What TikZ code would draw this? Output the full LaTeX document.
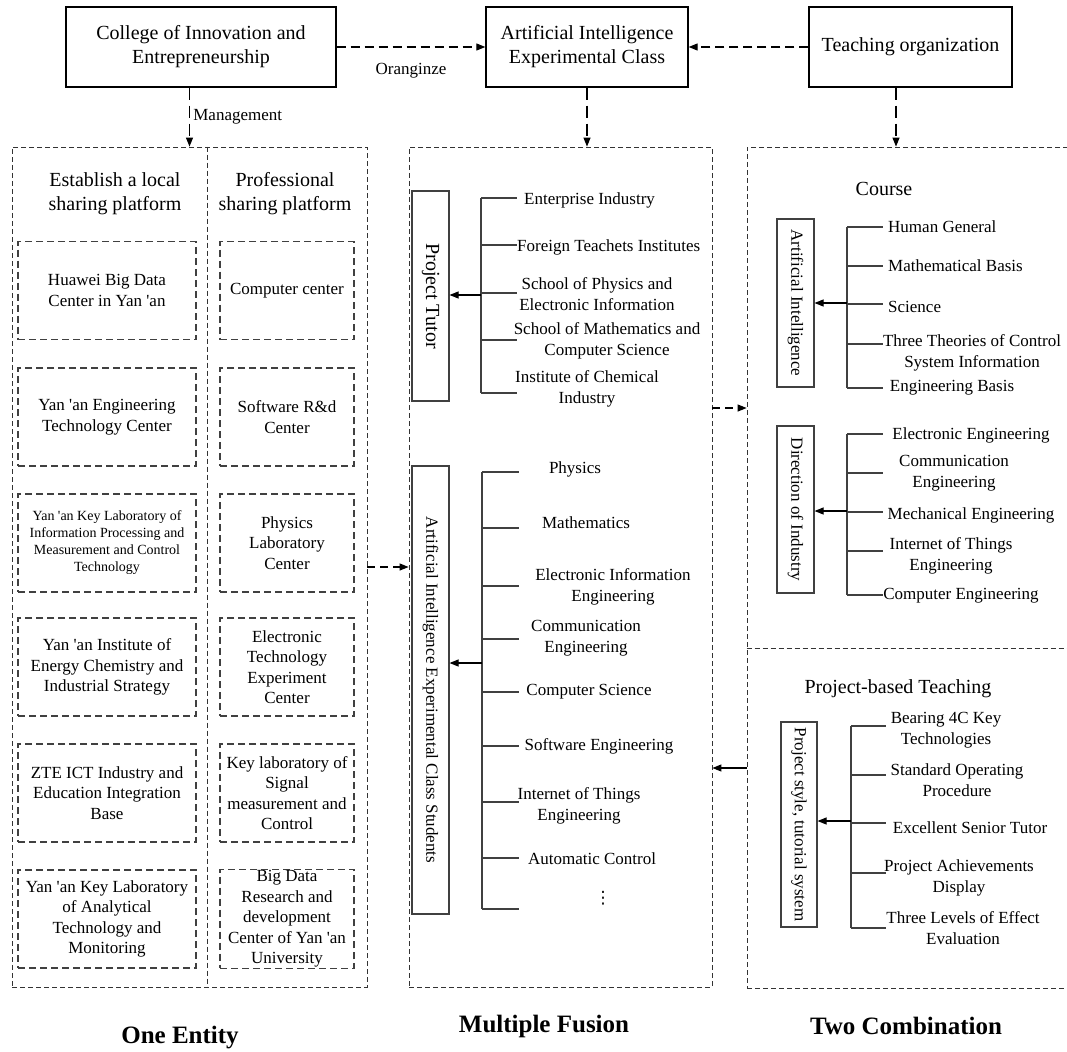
\documentclass[tikz,border=0pt]{standalone}
\usepackage{fontspec}
\setmainfont{Liberation Serif}
\newfontfamily\dotsfont{DejaVu Sans}
\usetikzlibrary{arrows.meta}
\newcommand{\apos}{\textquotesingle}

\begin{document}
\begin{tikzpicture}[x=1pt, y=-1pt,
  >={Triangle[length=9pt,width=7pt]},
  topbox/.style={draw, line width=1.3pt, align=center, minimum height=80pt,
                 font=\fontsize{20}{24}\selectfont},
  outerbox/.style={draw=black!80, line width=0.8pt, dash pattern=on 5pt off 3pt},
  cell/.style={draw=black!75, line width=1.1pt, dash pattern=on 7pt off 4pt,
               align=center, minimum height=98pt, inner sep=1pt,
               font=\fontsize{17}{20.5}\selectfont},
  vbox/.style={draw=black!75, line width=1.1pt, rotate=-90, align=center,
               font=\fontsize{17}{20}\selectfont},
  itemtxt/.style={align=center, inner sep=1pt, font=\fontsize{17}{20.5}\selectfont},
  headtxt/.style={align=center, font=\fontsize{20}{24}\selectfont},
  bigtitle/.style={font=\fontsize{25}{30}\selectfont\bfseries},
  dlink/.style={->, line width=1.1pt, dash pattern=on 9pt off 5pt},
  vlink/.style={->, line width=1.1pt, dash pattern=on 12pt off 6pt},
  slink/.style={->, line width=1.1pt},
  brk/.style={draw=black!75, line width=1.1pt}]

\useasboundingbox (0,0) rectangle (1067,1051);

% top row
\node[topbox, minimum width=270pt] (coll) at (201,47) {College of Innovation and\\Entrepreneurship};
\node[topbox, minimum width=202pt] (aic) at (587,47) {Artificial Intelligence\\Experimental Class};
\node[topbox, minimum width=203pt] (teach) at (910.5,47) {Teaching organization};

% the three dashed frames
\node[outerbox, minimum width=355pt, minimum height=840pt] (leftbox) at (189.5,567) {};
\node[outerbox, minimum width=303pt, minimum height=840pt] (midbox) at (560.5,567) {};
\node[outerbox, minimum width=340pt, minimum height=841pt] (rightbox) at (917,567.5) {};
\coordinate (ldiv) at (207,0);
\coordinate (rdiv) at (0,648);
\draw[outerbox] (leftbox.north -| ldiv) -- (leftbox.south -| ldiv);
\draw[outerbox] (rightbox.west |- rdiv) -- (rightbox.east |- rdiv);

\draw[dlink] (coll) -- node[below=12pt, font=\fontsize{17}{20}\selectfont] {Oranginze} (aic);
\draw[dlink] (teach) -- (aic);
\draw[vlink] (coll.south -| leftbox.north) --
  node[right, font=\fontsize{17}{20}\selectfont] {Management} (leftbox.north);
\draw[vlink] (aic.south) -- (aic.south |- midbox.north);
\coordinate (tdown) at (896,0);
\draw[vlink] (teach.south -| tdown) -- (rightbox.north -| tdown);

% one entity
\node[headtxt] (lhead) at (115,194) {Establish a local\\sharing platform};
\node[headtxt] (rhead) at (285,194) {Professional\\sharing platform};

\node[cell, minimum width=178pt] (l1) at (107,290.5) {Huawei Big Data\\Center in Yan \apos an};
\node[cell, minimum width=178pt] (l2) at (107,417) {Yan \apos an Engineering\\Technology Center};
\node[cell, minimum width=178pt, font=\fontsize{14}{17}\selectfont] (l3) at (107,543)
  {Yan \apos an Key Laboratory of\\Information Processing and\\Measurement and Control\\Technology};
\node[cell, minimum width=178pt] (l4) at (107,667) {Yan \apos an Institute of\\Energy Chemistry and\\Industrial Strategy};
\node[cell, minimum width=178pt] (l5) at (107,793) {ZTE ICT Industry and\\Education Integration\\Base};
\node[cell, minimum width=178pt] (l6) at (107,919) {Yan \apos an Key Laboratory\\of Analytical\\Technology and\\Monitoring};

\node[cell, minimum width=134pt] (r1) at (287,290.5) {Computer center};
\node[cell, minimum width=134pt] (r2) at (287,417) {Software R\&d\\Center};
\node[cell, minimum width=134pt] (r3) at (287,543) {Physics\\Laboratory\\Center};
\node[cell, minimum width=134pt] (r4) at (287,667) {Electronic\\Technology\\Experiment\\Center};
\node[cell, minimum width=134pt] (r5) at (287,793) {Key laboratory of\\Signal\\measurement and\\Control};
\node[cell, minimum width=134pt] (r6) at (287,919) {Big Data\\Research and\\development\\Center of Yan \apos an\\University};

\draw[dlink, dash pattern=on 8pt off 5pt] (leftbox.east) -- (midbox.west);

% multiple fusion
\node[vbox, minimum width=210pt, minimum height=37pt, font=\fontsize{20}{24}\selectfont] (tutor) at (430.5,296) {Project Tutor};
\draw[brk] (481,198) -- (481,393);
\foreach \y in {198,245,293,340,393} \draw[brk] (481,\y) -- (517,\y);
\coordinate (tspine) at (481,295);
\draw[slink] (tspine) -- (tspine -| tutor.north);
\node[itemtxt, anchor=west] (t1) at (523,200) {Enterprise Industry};
\node[itemtxt, anchor=west] (t2) at (516,247) {Foreign Teachets Institutes};
\node[itemtxt] (t3) at (597,294) {School of Physics and\\Electronic Information};
\node[itemtxt] (t4) at (607,341) {School of Mathematics and\\Computer Science};
\node[itemtxt] (t5) at (587,389) {Institute of Chemical\\Industry};

\node[vbox, minimum width=448pt, minimum height=37pt] (stud) at (430.5,690) {Artificial Intelligence Experimental Class Students};
\draw[brk] (482,472) -- (482,909);
\foreach \y in {472,528,586,639,692,746,802,858,909} \draw[brk] (482,\y) -- (519,\y);
\coordinate (sspine) at (482,663);
\draw[slink] (sspine) -- (sspine -| stud.north);
\node[itemtxt] (s1) at (575,469) {Physics};
\node[itemtxt] (s2) at (586,523) {Mathematics};
\node[itemtxt] (s3) at (613,587) {Electronic Information\\Engineering};
\node[itemtxt] (s4) at (586,638) {Communication\\Engineering};
\node[itemtxt] (s5) at (589,692) {Computer Science};
\node[itemtxt] (s6) at (599,746) {Software Engineering};
\node[itemtxt] (s7) at (579,806) {Internet of Things\\Engineering};
\node[itemtxt] (s8) at (592,859) {Automatic Control};
\node[itemtxt, font=\dotsfont\fontsize{17}{20}\selectfont] (s9) at (603,898) {⋮};

\coordinate (m2r) at (0,408);
\draw[dlink, dash pattern=on 8pt off 5pt] (midbox.east |- m2r) -- (rightbox.west |- m2r);
\coordinate (r2m) at (0,768);
\draw[slink] (rightbox.west |- r2m) -- (midbox.east |- r2m);

% two combination
\node[headtxt] (course) at (884,189) {Course};
\node[vbox, minimum width=168pt, minimum height=37pt] (aibox) at (795.5,303) {Artificial Intelligence};
\draw[brk] (847,227) -- (847,388);
\foreach \y in {227,266,304,344,388} \draw[brk] (847,\y) -- (883,\y);
\coordinate (aspine) at (847,303);
\draw[slink] (aspine) -- (aspine -| aibox.north);
\node[itemtxt, anchor=west] (c1) at (887,227) {Human General};
\node[itemtxt, anchor=west] (c2) at (887,266) {Mathematical Basis};
\node[itemtxt, anchor=west] (c3) at (887,307) {Science};
\node[itemtxt] (c4) at (972,353) {Three Theories of Control\\System Information};
\node[itemtxt] (c5) at (952,388) {Engineering Basis};

\node[vbox, minimum width=167pt, minimum height=37pt] (dirbox) at (795.5,509.5) {Direction of Industry};
\draw[brk] (847,434) -- (847,595);
\foreach \y in {434,473,512,551,595} \draw[brk] (847,\y) -- (883,\y);
\coordinate (dspine) at (847,511);
\draw[slink] (dspine) -- (dspine -| dirbox.north);
\node[itemtxt] (d1) at (971,435) {Electronic Engineering};
\node[itemtxt] (d2) at (954,473) {Communication\\Engineering};
\node[itemtxt] (d3) at (971,515) {Mechanical Engineering};
\node[itemtxt] (d4) at (951,556) {Internet of Things\\Engineering};
\node[itemtxt] (d5) at (961,596) {Computer Engineering};

\node[headtxt] (pbt) at (898,689) {Project-based Teaching};
\node[vbox, minimum width=205pt, minimum height=36pt] (pstyle) at (799,824.5) {Project style, tutorial system};
\draw[brk] (851,726) -- (851,928);
\foreach \y in {726,775,823,873,928} \draw[brk] (851,\y) -- (886,\y);
\coordinate (pspine) at (851,821);
\draw[slink] (pspine) -- (pspine -| pstyle.north);
\node[itemtxt] (p1) at (946,730) {Bearing 4C Key\\Technologies};
\node[itemtxt] (p2) at (957,780) {Standard Operating\\Procedure};
\node[itemtxt] (p3) at (970,828) {Excellent Senior Tutor};
\node[itemtxt] (p4) at (959,878) {Project Achievements\\Display};
\node[itemtxt] (p5) at (963,928) {Three Levels of Effect\\Evaluation};

% captions
\node[bigtitle] (one) at (180,1038) {One Entity};
\node[bigtitle] (multi) at (544,1026) {Multiple Fusion};
\node[bigtitle] (two) at (906,1026) {Two Combination};
\end{tikzpicture}
\end{document}
